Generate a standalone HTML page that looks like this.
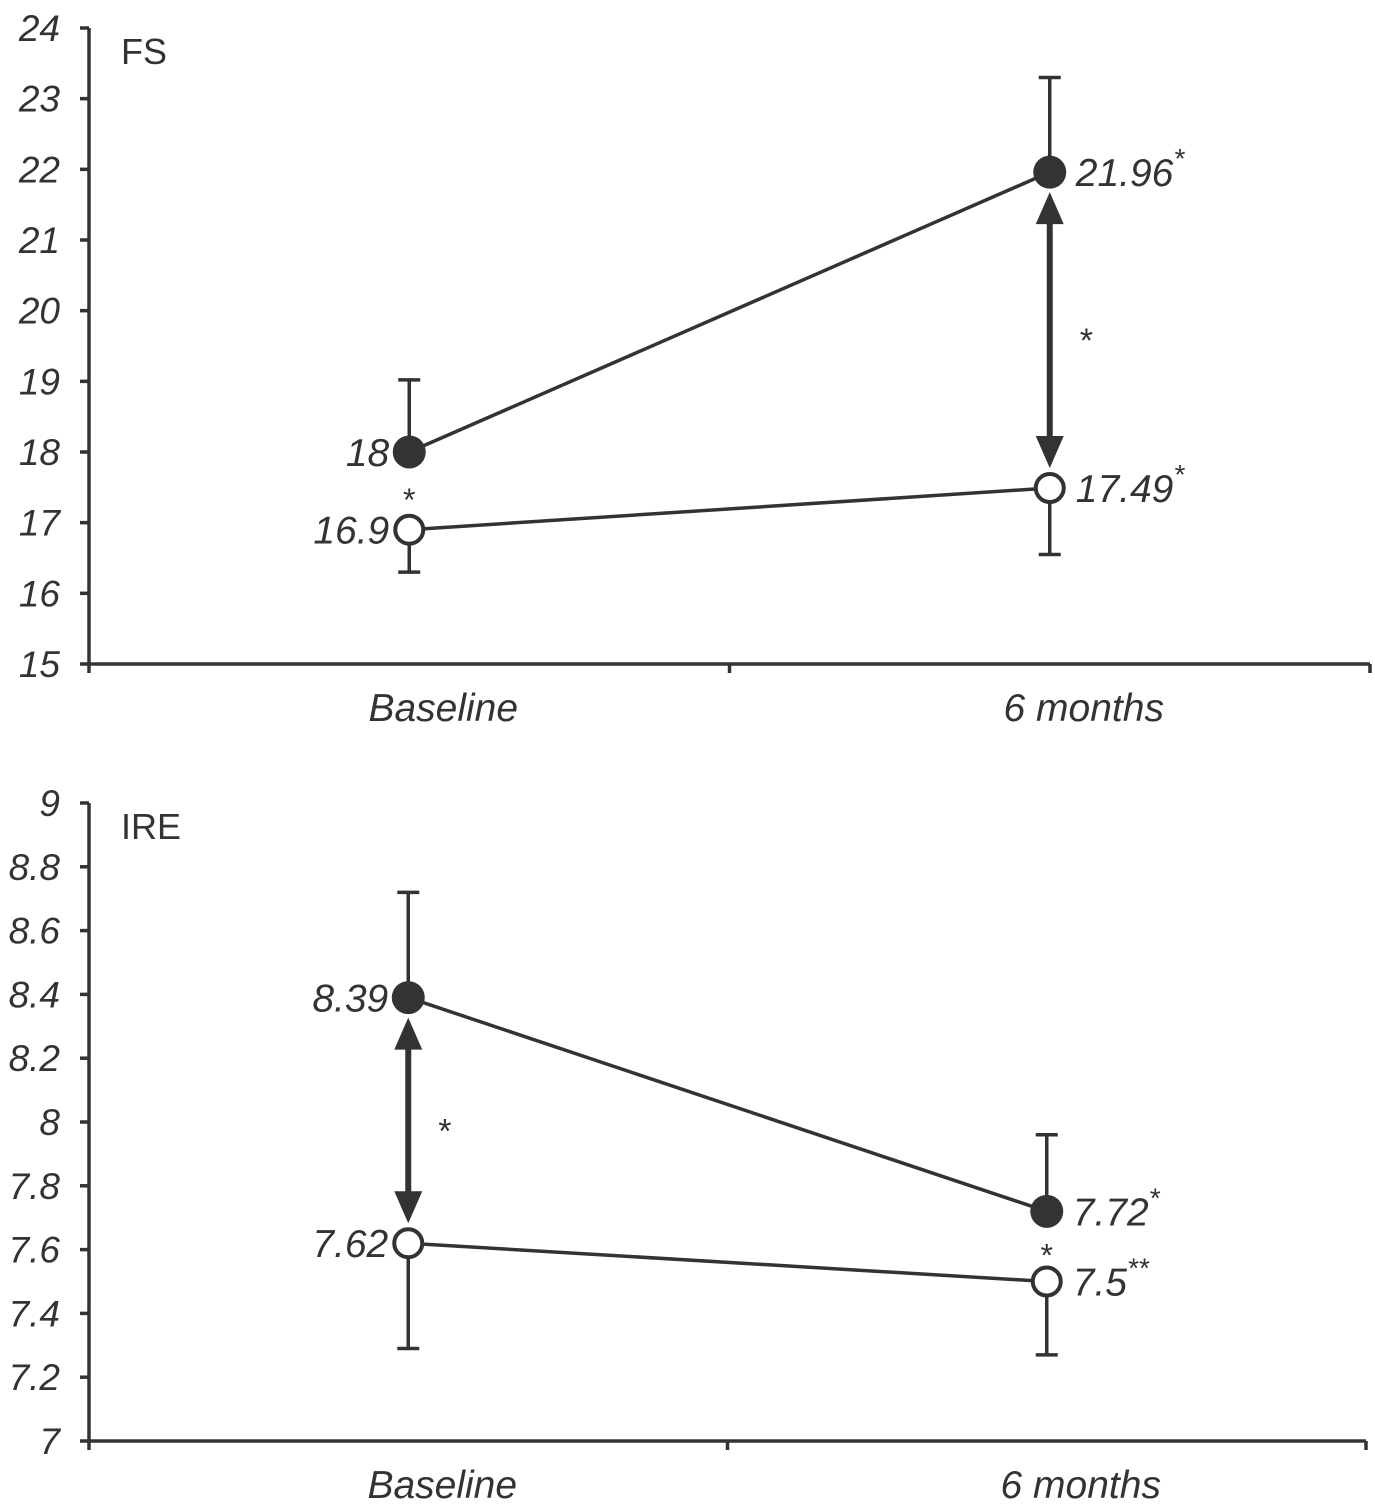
<!DOCTYPE html>
<html><head><meta charset="utf-8"><style>
body{margin:0;background:#fff;}
svg{display:block;font-family:"Liberation Sans",sans-serif;}
</style></head><body>
<svg id="svg" width="1375" height="1505" xmlns="http://www.w3.org/2000/svg"></svg>
<script>
const categories=["Baseline","6 months"];
const fsFilled=[18,21.96];
const fsHollow=[16.9,17.49];
const fsFilledUpper=[19.02,23.3];
const fsHollowLower=[16.3,16.55];
const fsFilledLabels=["18","21.96"];
const fsHollowLabels=["16.9","17.49"];
const fsTicks=[15,16,17,18,19,20,21,22,23,24];
const ireFilled=[8.39,7.72];
const ireHollow=[7.62,7.5];
const ireFilledUpper=[8.72,7.96];
const ireHollowLower=[7.29,7.27];
const ireFilledLabels=["8.39","7.72"];
const ireHollowLabels=["7.62","7.5"];
const ireTicks=[7,7.2,7.4,7.6,7.8,8,8.2,8.4,8.6,8.8,9];

const NS="http://www.w3.org/2000/svg";
const svg=document.getElementById('svg');
const C="#333";
function mk(tag,attrs,parent,text){const e=document.createElementNS(NS,tag);for(const k in attrs)e.setAttribute(k,attrs[k]);if(text!==undefined)e.textContent=text;(parent||svg).appendChild(e);return e;}

function panel(p){
  const g=mk('g',{});
  
  
  const y=v=>p.yBot-(v-p.yMin)/(p.yMax-p.yMin)*(p.yBot-p.yTop);
  const x=i=>p.x0+(i+0.5)*(p.x1-p.x0)/categories.length;
  const ax=mk('line',{x1:89,x2:89,y1:y(p.yMax),y2:p.yBot,stroke:C,'stroke-width':3.5},g);
  
  p.ticks.forEach(t=>{
    mk('line',{x1:80,x2:89,y1:y(t),y2:y(t),stroke:C,'stroke-width':3.5},g);
    const tl=mk('text',{x:60,y:y(t)+13,'text-anchor':'end','font-size':37,'font-style':'italic',fill:C},g,String(t));
    
  });
  const xa=mk('line',{x1:89,x2:p.x1,y1:p.yBot,y2:p.yBot,stroke:C,'stroke-width':3.5},g);
  
  for(let i=0;i<=categories.length;i++){const tx=p.x0+i*(p.x1-p.x0)/categories.length;mk('line',{x1:tx,x2:tx,y1:p.yBot,y2:p.yBot+9,stroke:C,'stroke-width':3.5},g);}
  categories.forEach((c,i)=>{const t=mk('text',{x:x(i)+34,y:p.yBot+57,'text-anchor':'middle','font-size':39,'font-style':'italic',fill:C},g,c);
    });
  const ti=mk('text',{x:121,y:y(p.yMax)+36,'font-size':36,fill:C},g,p.name);
  
  categories.forEach((c,i)=>{
    [[p.filled[i],p.fu[i]],[p.hollow[i],p.hl[i]]].forEach(([v,e])=>{
      mk('line',{x1:x(i),x2:x(i),y1:y(v),y2:y(e),stroke:C,'stroke-width':3.5},g);
      mk('line',{x1:x(i)-11,x2:x(i)+11,y1:y(e),y2:y(e),stroke:C,'stroke-width':3.5},g);
    });
  });
  const l1=mk('polyline',{points:categories.map((c,i)=>x(i)+','+y(p.filled[i])).join(' '),fill:'none',stroke:C,'stroke-width':3.5},g);
  
  const l2=mk('polyline',{points:categories.map((c,i)=>x(i)+','+y(p.hollow[i])).join(' '),fill:'none',stroke:C,'stroke-width':3.5},g);
  
  const ai=p.arrowIdx, axx=x(ai);
  const ya=y(p.filled[ai])+20, yb=y(p.hollow[ai])-20;
  mk('line',{x1:axx,x2:axx,y1:ya+25,y2:yb-25,stroke:C,'stroke-width':6},g);
  const ar=mk('polygon',{points:`${axx},${ya} ${axx-14},${ya+32} ${axx+14},${ya+32}`,fill:C},g);
  
  mk('polygon',{points:`${axx},${yb} ${axx-14},${yb-32} ${axx+14},${yb-32}`,fill:C},g);
  mk('text',{x:axx+30,y:(ya+yb)/2+22,'font-size':34,fill:C},g,'*');
  categories.forEach((c,i)=>{
    const f=mk('circle',{cx:x(i),cy:y(p.filled[i]),r:16.5,fill:C},g);
    
    const h=mk('circle',{cx:x(i),cy:y(p.hollow[i]),r:14,fill:'#fff',stroke:C,'stroke-width':4},g);
    
    const left=i===0;
    [[p.filled[i],p.fl[i],p.fs[i]],[p.hollow[i],p.hlab[i],p.hs[i]]].forEach(([v,lab,sup])=>{
      const t=mk('text',{x:left?x(i)-20:x(i)+26,y:y(v)+14,'text-anchor':left?'end':'start','font-size':39,'font-style':'italic',fill:C},g,lab);
      
      if(sup){mk('tspan',{'font-size':28,dy:-18},t,sup);}
    });
    if(p.midStar[i]) mk('text',{x:x(i),y:(y(p.filled[i])+y(p.hollow[i]))/2+20,'text-anchor':'middle','font-size':32,fill:C},g,'*');
  });
}
panel({name:'FS',yMin:15,yMax:24,yTop:28,yBot:664,x0:89,x1:1370,ticks:fsTicks,filled:fsFilled,hollow:fsHollow,fu:fsFilledUpper,hl:fsHollowLower,fl:fsFilledLabels,hlab:fsHollowLabels,fs:['','*'],hs:['','*'],arrowIdx:1,midStar:[true,false]});
panel({name:'IRE',yMin:7,yMax:9,yTop:803,yBot:1441,x0:89,x1:1366,ticks:ireTicks,filled:ireFilled,hollow:ireHollow,fu:ireFilledUpper,hl:ireHollowLower,fl:ireFilledLabels,hlab:ireHollowLabels,fs:['','*'],hs:['','**'],arrowIdx:0,midStar:[false,true]});
</script>
</body></html>
